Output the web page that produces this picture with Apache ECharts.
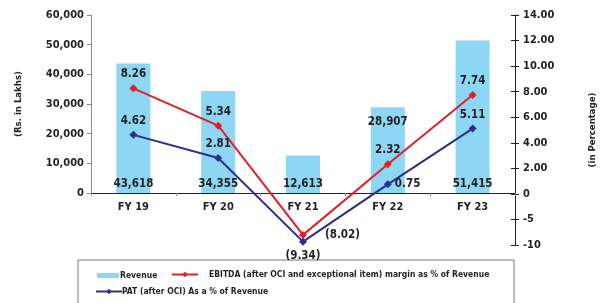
<!DOCTYPE html>
<html>
<head>
<meta charset="utf-8">
<script src="https://cdn.jsdelivr.net/npm/echarts@6/dist/echarts.min.js"></script>
<style>
html, body { margin: 0; padding: 0; background: #fff; }
#chart { width: 606px; height: 303px; }
</style>
</head>
<body>
<div id="chart"></div>
<script>
var categories = ['FY 19', 'FY 20', 'FY 21', 'FY 22', 'FY 23'];
var revenue = [43618, 34355, 12613, 28907, 51415];
var ebitdaMargin = [8.26, 5.34, -8.02, 2.32, 7.74];
var patMargin = [4.62, 2.81, -9.34, 0.75, 5.11];
var ebitdaLabelPos = ['top', 'top', 'right', 'top', 'top'];
var patLabelPos = ['top', 'top', 'bottom', 'right', 'top'];

var FONT = "'DejaVu Sans Condensed', 'Liberation Sans', sans-serif";
var INK = '#231f20';

// right axis: 2 per tick above zero, 5 per tick below zero
function toAxis(v) {
	return v < 0 ? v * 2 / 5 : v;
}
function pctLabel(v) {
	return v < 0 ? '(' + Math.abs(v).toFixed(2) + ')' : v.toFixed(2);
}
function lineData(values, positions, dist) {
	return values.map(function(v, i) {
		return {
			value: toAxis(v),
			raw: v,
			label: { position: positions[i], distance: positions[i] == 'right' ? dist : 4 }
		};
	});
}

var chart = echarts.init(document.getElementById('chart'));
var option = {
	backgroundColor: '#fff',
	animation: false,
	textStyle: { fontFamily: FONT },
	grid: [
		{ left: 91, right: 91, top: 15, height: 178 },
		{ left: 91, right: 91, top: 15, height: 230 }
	],
	legend: [{
		left: 92, top: 266,
		itemWidth: 22, itemHeight: 5, itemGap: 0,
		textStyle: { fontSize: 8.5, fontWeight: 'bold', color: INK, fontFamily: FONT, padding: [0, 0, 0, -4] },
		data: ['Revenue']
	}, {
		left: 166, top: 265,
		itemWidth: 26, itemHeight: 7,
		textStyle: { fontSize: 8.5, fontWeight: 'bold', color: INK, fontFamily: FONT, padding: [0, 0, 0, 6] },
		data: ['EBITDA (after OCI and exceptional item) margin as % of Revenue']
	}, {
		left: 90, top: 282,
		itemWidth: 26, itemHeight: 7,
		textStyle: { fontSize: 8.5, fontWeight: 'bold', color: INK, fontFamily: FONT, padding: [0, 0, 0, -5] },
		data: ['PAT (after OCI) As a % of Revenue']
	}],
	xAxis: [{
		type: 'category',
		gridIndex: 0,
		data: categories,
		axisLine: { lineStyle: { color: '#222', width: 1 } },
		axisTick: { show: true, length: 3, lineStyle: { color: '#888' } },
		axisLabel: { margin: 9, fontSize: 11, fontWeight: 'bold', color: INK, fontFamily: FONT }
	}, {
		type: 'category',
		gridIndex: 1,
		data: categories,
		show: false
	}],
	yAxis: [{
		type: 'value',
		gridIndex: 0,
		min: 0, max: 60000, interval: 10000,
		name: '(Rs. in Lakhs)',
		nameLocation: 'middle',
		nameRotate: 90,
		nameGap: 67,
		nameTextStyle: { fontSize: 9.5, fontWeight: 'bold', color: INK, fontFamily: FONT },
		axisLine: { show: true, lineStyle: { color: '#888' } },
		axisTick: { show: true, length: 4, lineStyle: { color: '#888' } },
		splitLine: { show: false },
		axisLabel: {
			margin: 7, fontSize: 11, fontWeight: 'bold', color: INK, fontFamily: FONT,
			formatter: function(v) { return v.toLocaleString('en-US'); }
		}
	}, {
		type: 'value',
		gridIndex: 1,
		position: 'right',
		min: -4, max: 14, interval: 2,
		name: '(in Percentage)',
		nameLocation: 'middle',
		nameRotate: 90,
		nameGap: 73,
		nameTextStyle: { fontSize: 9.5, fontWeight: 'bold', color: INK, fontFamily: FONT },
		axisLine: { show: true, lineStyle: { color: '#222' } },
		axisTick: { show: true, length: 4, lineStyle: { color: '#222' } },
		splitLine: { show: false },
		axisLabel: {
			margin: 8, fontSize: 11, fontWeight: 'bold', color: INK, fontFamily: FONT,
			formatter: function(v) {
				if (v === 0) return '0';
				if (v < 0) return String(v * 5 / 2);
				return v.toFixed(2);
			}
		}
	}, {
		type: 'value',
		gridIndex: 1,
		position: 'right',
		min: -4, max: 14, interval: 2,
		axisLine: { show: false },
		axisTick: { show: true, inside: true, length: 4, lineStyle: { color: '#222' } },
		axisLabel: { show: false },
		splitLine: { show: false }
	}],
	series: [{
		name: 'Revenue',
		type: 'bar',
		xAxisIndex: 0,
		yAxisIndex: 0,
		barWidth: 34,
		itemStyle: { color: '#8dd6f4' },
		label: {
			show: true,
			fontSize: 11.5, fontWeight: 'bold', color: INK, fontFamily: FONT,
			formatter: function(p) { return p.value.toLocaleString('en-US'); }
		},
		data: revenue.map(function(v, i) {
			return { value: v, label: i == 3 ? { position: 'insideTop', distance: 9 } : { position: 'insideBottom', distance: 3 } };
		})
	}, {
		name: 'EBITDA (after OCI and exceptional item) margin as % of Revenue',
		type: 'line',
		xAxisIndex: 1,
		yAxisIndex: 1,
		symbol: 'diamond',
		symbolSize: 8,
		lineStyle: { color: '#e31e26', width: 2 },
		itemStyle: { color: '#e31e26' },
		label: {
			show: true,
			fontSize: 11.5, fontWeight: 'bold', color: INK, fontFamily: FONT,
			formatter: function(p) { return pctLabel(p.data.raw); }
		},
		data: lineData(ebitdaMargin, ebitdaLabelPos, 18)
	}, {
		name: 'PAT (after OCI) As a % of Revenue',
		type: 'line',
		xAxisIndex: 1,
		yAxisIndex: 1,
		symbol: 'diamond',
		symbolSize: 8,
		lineStyle: { color: '#2b2e8c', width: 2 },
		itemStyle: { color: '#2b2e8c' },
		label: {
			show: true,
			fontSize: 11.5, fontWeight: 'bold', color: INK, fontFamily: FONT,
			formatter: function(p) { return pctLabel(p.data.raw); }
		},
		data: lineData(patMargin, patLabelPos, 3)
	}],
	graphic: [{
		type: 'rect',
		silent: true,
		shape: { x: 78, y: 260, width: 436, height: 60 },
		style: { fill: null, stroke: '#777', lineWidth: 1 }
	}]
};
chart.setOption(option);
</script>
</body>
</html>
